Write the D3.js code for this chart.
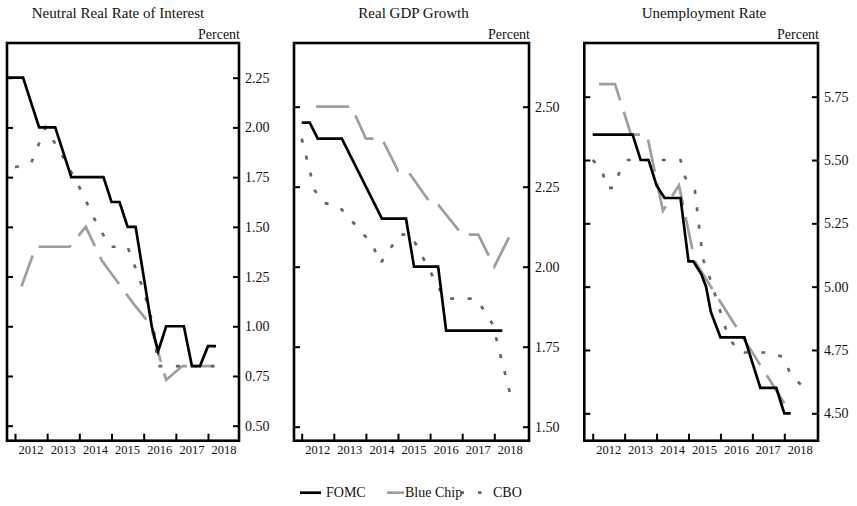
<!DOCTYPE html>
<html>
<head>
<meta charset="utf-8">
<script src="https://cdn.jsdelivr.net/npm/d3@7"></script>
</head>
<body style="margin:0;background:#fff">
<svg id="chart" width="857" height="506"></svg>
<script>
// ---------------- DATA ----------------
const yearLabels = [2012, 2013, 2014, 2015, 2016, 2017, 2018];

const rateTicks = [0.50, 0.75, 1.00, 1.25, 1.50, 1.75, 2.00, 2.25];
const gdpTicks = [1.50, 1.75, 2.00, 2.25, 2.50];
const unempTicks = [4.50, 4.75, 5.00, 5.25, 5.50, 5.75];

// Neutral real rate of interest [year, percent]
const rateFOMC = [[2011.75,2.25],[2012.25,2.25],[2012.75,2.00],[2013.25,2.00],[2013.75,1.75],[2014.75,1.75],
  [2015.0,1.625],[2015.25,1.625],[2015.5,1.50],[2015.75,1.50],[2016.25,1.00],[2016.45,0.875],[2016.7,1.00],
  [2017.25,1.00],[2017.5,0.80],[2017.75,0.80],[2018.0,0.90],[2018.25,0.90]];
const rateBlueChip = [[2012.2,1.20],[2012.65,1.40],[2013.7,1.40],[2014.2,1.50],[2014.7,1.33],[2015.2,1.22],
  [2015.7,1.11],[2016.2,1.01],[2016.7,0.73],[2017.2,0.80],[2018.2,0.80]];
const rateCBO = [[2012.0,1.80],[2012.5,1.82],[2012.95,2.00],[2013.5,1.85],[2014.0,1.70],[2014.5,1.53],
  [2014.95,1.40],[2015.5,1.40],[2016.0,1.18],[2016.3,1.00],[2016.45,0.80],[2018.2,0.80]];

// Real GDP growth
const gdpFOMC = [[2012.0,2.45],[2012.25,2.45],[2012.5,2.40],[2013.25,2.40],[2014.5,2.15],[2015.25,2.15],
  [2015.5,2.00],[2016.25,2.00],[2016.5,1.80],[2018.25,1.80]];
const gdpBlueChip = [[2012.45,2.50],[2013.55,2.50],[2014.0,2.40],[2014.5,2.40],[2015.0,2.30],[2015.3,2.30],
  [2016.0,2.20],[2016.2,2.20],[2017.0,2.10],[2017.5,2.10],[2018.0,2.00],[2018.5,2.10]];
const gdpCBO = [[2012.0,2.40],[2012.4,2.24],[2012.65,2.20],[2013.15,2.19],[2014.2,2.07],[2014.45,2.01],
  [2015.05,2.10],[2015.4,2.10],[2016.45,1.90],[2017.45,1.90],[2017.95,1.82],[2018.5,1.60]];

// Unemployment rate
const unempFOMC = [[2012.0,5.60],[2013.25,5.60],[2013.5,5.50],[2013.75,5.50],[2014.0,5.40],[2014.25,5.35],
  [2014.75,5.35],[2015.0,5.10],[2015.15,5.10],[2015.4,5.05],[2015.55,5.00],[2015.7,4.90],[2016.0,4.80],
  [2016.75,4.80],[2017.25,4.60],[2017.75,4.60],[2018.0,4.50],[2018.2,4.50]];
const unempBlueChip = [[2012.2,5.80],[2012.7,5.80],[2013.2,5.60],[2013.7,5.60],[2014.2,5.30],[2014.7,5.40],
  [2015.2,5.10],[2015.7,5.00],[2016.2,4.90],[2016.7,4.80],[2017.2,4.70],[2017.7,4.60],[2018.2,4.50]];
const unempCBO = [[2012.0,5.50],[2012.3,5.46],[2012.42,5.39],[2012.65,5.39],[2012.86,5.46],[2013.1,5.50],
  [2014.75,5.50],[2014.9,5.43],[2015.2,5.38],[2015.45,5.11],[2015.63,5.05],[2016.25,4.80],[2016.6,4.74],
  [2017.6,4.74],[2018.0,4.72],[2018.2,4.65],[2018.55,4.61]];

const seriesNames = ["FOMC", "Blue Chip", "CBO"];

// ---------------- LAYOUT / STYLE ----------------
const FONT = "Liberation Serif";
const styles = {
  "FOMC":      { color: "#000000", width: 2.7, dash: null },
  "Blue Chip": { color: "#9e9e9e", width: 2.7, dash: "33,12" },
  "CBO":       { color: "#666666", width: 2.7, dash: "4,13.5" }
};

const frameTop = 43, frameBottom = 440.7;
const panels = [
  { title: "Neutral Real Rate of Interest", titleX: 118, left: 7, right: 239,
    xr: [15, 208], ticks: rateTicks, yd: [0.50, 2.25], yr: [425.7, 77.7],
    data: { "FOMC": rateFOMC, "Blue Chip": rateBlueChip, "CBO": rateCBO } },
  { title: "Real GDP Growth", titleX: 413.5, left: 294, right: 529,
    xr: [301.7, 494.3], ticks: gdpTicks, yd: [1.50, 2.50], yr: [426.7, 106.7],
    data: { "FOMC": gdpFOMC, "Blue Chip": gdpBlueChip, "CBO": gdpCBO } },
  { title: "Unemployment Rate", titleX: 704, left: 584.3, right: 818,
    xr: [592.7, 784.3], ticks: unempTicks, yd: [4.50, 5.75], yr: [413.3, 96.7],
    data: { "FOMC": unempFOMC, "Blue Chip": unempBlueChip, "CBO": unempCBO } }
];

const svg = d3.select("#chart");
const fmt = d3.format(".2f");

panels.forEach((p, i) => {
  const x = d3.scaleLinear().domain([2012, 2018]).range(p.xr);
  const y = d3.scaleLinear().domain(p.yd).range(p.yr);
  const g = svg.append("g");

  const clipId = "clip" + i;
  svg.append("clipPath").attr("id", clipId).append("rect")
    .attr("x", p.left).attr("y", frameTop)
    .attr("width", p.right - p.left).attr("height", frameBottom - frameTop);

  // title & unit
  g.append("text").attr("x", p.titleX).attr("y", 17.5).attr("text-anchor", "middle")
    .attr("font-family", FONT).attr("font-size", 15).attr("fill", "#111").text(p.title);
  g.append("text").attr("x", p.right + 1).attr("y", 39).attr("text-anchor", "end")
    .attr("font-family", FONT).attr("font-size", 14).attr("fill", "#111").text("Percent");

  // right axis labels and ticks (ticks inward on both sides)
  const yAxisR = d3.axisRight(y).tickValues(p.ticks).tickSize(6).tickPadding(0).tickFormat(fmt);
  const ar = g.append("g").attr("transform", `translate(${p.right},0)`).call(yAxisR)
    .attr("font-family", FONT).attr("font-size", 14);
  ar.select(".domain").remove();
  ar.selectAll(".tick line").attr("x2", -6).attr("stroke", "#000").attr("stroke-width", 2);
  ar.selectAll(".tick text").attr("x", 6).attr("fill", "#111");

  const yAxisL = d3.axisLeft(y).tickValues(p.ticks).tickSize(6).tickFormat("");
  const al = g.append("g").attr("transform", `translate(${p.left},0)`).call(yAxisL);
  al.select(".domain").remove();
  al.selectAll(".tick line").attr("x2", 6).attr("stroke", "#000").attr("stroke-width", 2);

  // bottom axis: ticks at year starts (inward), labels centered in each year
  const xAxis = d3.axisBottom(x).tickValues(yearLabels).tickSize(6).tickFormat("");
  const ax = g.append("g").attr("transform", `translate(0,${frameBottom})`).call(xAxis);
  ax.select(".domain").remove();
  ax.selectAll(".tick line").attr("y2", -7).attr("stroke", "#000").attr("stroke-width", 2);

  g.selectAll(".xlab").data(yearLabels).enter().append("text")
    .attr("class", "xlab")
    .attr("x", d => x(d + 0.5)).attr("y", 454)
    .attr("text-anchor", "middle")
    .attr("font-family", FONT).attr("font-size", 12.5).attr("fill", "#111")
    .text(d => d);

  // series
  const line = d3.line().x(d => x(d[0])).y(d => y(d[1]));
  ["Blue Chip", "CBO", "FOMC"].forEach(name => {
    const st = styles[name];
    g.append("path").datum(p.data[name])
      .attr("clip-path", `url(#${clipId})`)
      .attr("d", line)
      .attr("fill", "none")
      .attr("stroke", st.color)
      .attr("stroke-width", st.width)
      .attr("stroke-linejoin", "miter")
      .attr("stroke-dasharray", st.dash);
  });

  // frame
  g.append("rect").attr("x", p.left).attr("y", frameTop)
    .attr("width", p.right - p.left).attr("height", frameBottom - frameTop)
    .attr("fill", "none").attr("stroke", "#000").attr("stroke-width", 2.6);
});

// ---------------- LEGEND ----------------
const legendItems = [
  { name: "FOMC", x1: 300, x2: 321, tx: 326, dash: null },
  { name: "Blue Chip", x1: 387, x2: 404, tx: 405, dash: null },
  { name: "CBO", x1: 460, x2: 481.5, tx: 493, dash: "4,14" }
];
const lg = svg.append("g");
legendItems.forEach(it => {
  const st = styles[it.name];
  lg.append("line").attr("x1", it.x1).attr("x2", it.x2).attr("y1", 492.7).attr("y2", 492.7)
    .attr("stroke", st.color).attr("stroke-width", 2.7).attr("stroke-dasharray", it.dash);
  lg.append("text").attr("x", it.tx).attr("y", 497)
    .attr("font-family", FONT).attr("font-size", 14).attr("fill", "#111").text(it.name);
});
</script>
</body>
</html>
